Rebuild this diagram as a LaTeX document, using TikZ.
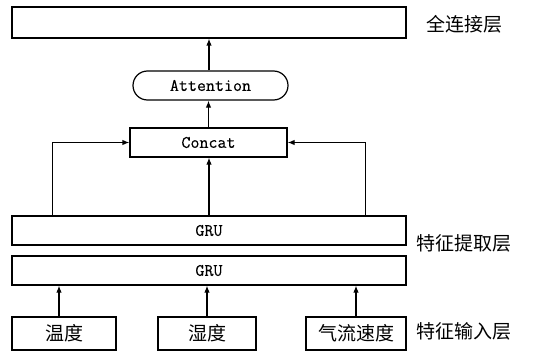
\documentclass[tikz,border=0pt]{standalone}
\usepackage{fontspec}
\newfontfamily\cjk{Noto Sans CJK SC}
\newfontfamily\latmono[FakeBold=0.3]{Latin Modern Mono}
\usetikzlibrary{arrows.meta,shapes.misc}

\tikzset{
  blk/.style={draw, line width=1.2pt, inner sep=0pt, anchor=center},
  lat/.style={font=\latmono\fontsize{17.5}{18}\selectfont},
  zh/.style={font=\cjk\fontsize{19}{20}\selectfont},
  arr/.style={line width=1.2pt, -{Latex[length=7pt,width=5.5pt]}},
}

\begin{document}
\begin{tikzpicture}[x=1pt,y=-1pt]
  \useasboundingbox (0,0) rectangle (543,353);

  % layers
  \node[blk, minimum width=394pt, minimum height=31pt] (fc) at (209,22.5) {};
  \node[blk, lat, rounded rectangle, minimum width=155pt, minimum height=29pt] (att) at (210.5,85.5) {Attention};
  \node[blk, lat, minimum width=157pt, minimum height=29pt] (cc) at (208.5,142.5) {Concat};
  \node[blk, lat, minimum width=394pt, minimum height=29pt] (gru1) at (209,230.5) {GRU};
  \node[blk, lat, minimum width=394pt, minimum height=29pt] (gru2) at (209,270.5) {GRU};

  % inputs
  \node[blk, zh, minimum width=104pt, minimum height=33pt] (in1) at (64,333.5) {温度};
  \node[blk, zh, minimum width=98pt, minimum height=33pt] (in2) at (207,333.5) {湿度};
  \node[blk, zh, minimum width=100pt, minimum height=33pt] (in3) at (356,333.5) {气流速度};

  % layer names
  \node[zh] (l1) at (464,24) {全连接层};
  \node[zh] (l2) at (464,243) {特征提取层};
  \node[zh] (l3) at (464,331) {特征输入层};

  % connections
  \draw[arr] (fc.south |- att.north) -- (fc.south);
  \draw[arr] (cc.north) -- (cc.north |- att.south);
  \draw[arr] (gru1.north) -- (gru1.north |- cc.south);
  \draw[arr] ([xshift=41pt]gru1.north west) |- (cc.west);
  \draw[arr] ([xshift=-41pt]gru1.north east) |- (cc.east);
  \draw[arr] ([xshift=-5pt]in1.north) -- ([xshift=-5pt]in1.north |- gru2.south);
  \draw[arr] (in2.north) -- (in2.north |- gru2.south);
  \draw[arr] (in3.north) -- (in3.north |- gru2.south);
\end{tikzpicture}
\end{document}
